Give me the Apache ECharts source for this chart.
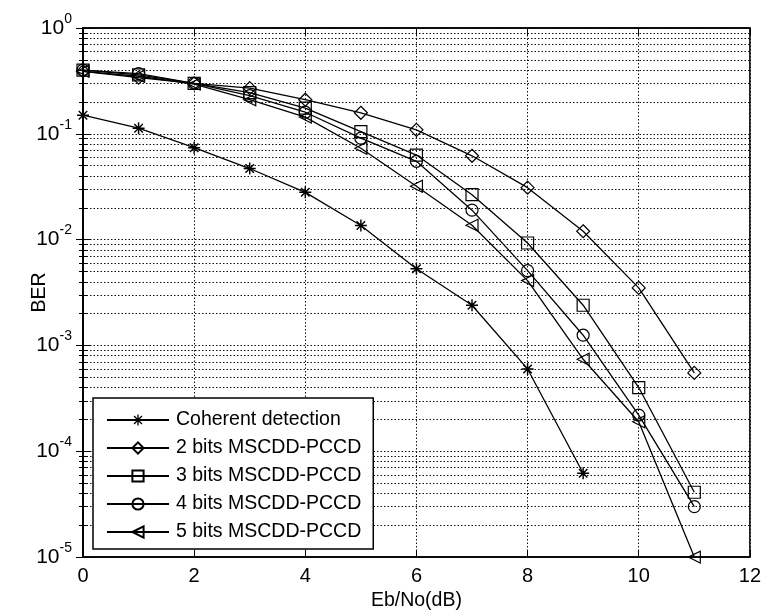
<!DOCTYPE html>
<html>
<head>
<meta charset="utf-8">
<script src="https://cdn.jsdelivr.net/npm/echarts@6/dist/echarts.min.js"></script>
<style>
  html, body { margin: 0; padding: 0; background: #fff; }
  #chart { width: 764px; height: 616px; }
</style>
</head>
<body>
<div id="chart"></div>
<script>
// Eb/No (dB) points
const ebno = [0, 1, 2, 3, 4, 5, 6, 7, 8, 9, 10, 11];
// BER per curve
const coherent = [0.15, 0.113, 0.074, 0.047, 0.028, 0.0136, 0.0053, 0.0024, 0.0006, 0.000062];
const bits2 = [0.39, 0.34, 0.30, 0.27, 0.21, 0.158, 0.109, 0.062, 0.031, 0.012, 0.0035, 0.00055];
const bits3 = [0.40, 0.36, 0.30, 0.245, 0.175, 0.105, 0.063, 0.0266, 0.0093, 0.0024, 0.0004, 0.000041];
const bits4 = [0.40, 0.37, 0.30, 0.23, 0.16, 0.091, 0.055, 0.019, 0.0051, 0.00125, 0.00022, 0.00003];
const bits5 = [0.39, 0.35, 0.295, 0.21, 0.144, 0.073, 0.032, 0.0137, 0.0041, 0.00074, 0.00019, 0.00001];
const names = ['Coherent detection', '2 bits MSCDD-PCCD', '3 bits MSCDD-PCCD', '4 bits MSCDD-PCCD', '5 bits MSCDD-PCCD'];

const FONT = '"Liberation Sans", Arial, sans-serif';
const starPath = 'path://M4.4,0H5.6V10H4.4Z M0,4.4H10V5.6H0Z M1.05,1.9L1.9,1.05L8.95,8.1L8.1,8.95Z M8.1,1.05L8.95,1.9L1.9,8.95L1.05,8.1Z';
const leftTri = 'path://M0,5L10,0L10,10Z';

function pairs(vals) {
  return vals.map((v, i) => [ebno[i], v]);
}

function mkSeries(name, vals, symbol, size, filled) {
  return {
    name: name,
    type: 'line',
    data: pairs(vals),
    symbol: symbol,
    symbolSize: size,
    showAllSymbol: true,
    clip: false,
    lineStyle: { color: '#000', width: 1.3 },
    itemStyle: filled
      ? { color: '#000' }
      : { color: 'rgba(0,0,0,0)', borderColor: '#000', borderWidth: 1.2 },
    emphasis: { disabled: true },
    z: 3
  };
}

const series = [
  mkSeries(names[0], coherent, starPath, 12, true),
  mkSeries(names[1], bits2, 'diamond', 13, false),
  mkSeries(names[2], bits3, 'rect', 12, false),
  mkSeries(names[3], bits4, 'circle', 12, false),
  mkSeries(names[4], bits5, leftTri, 12, false)
];

const gridLine = { show: true, lineStyle: { color: '#111', type: [1.5, 2], width: 1 } };

const myechart = echarts.init(document.getElementById('chart'), null, { renderer: 'canvas' });
const option = {
  animation: false,
  backgroundColor: '#fff',
  grid: {
    left: 83, right: 10, top: 28, bottom: 57,
    show: true, borderColor: '#000', borderWidth: 1.5, backgroundColor: 'transparent'
  },
  legend: {
    orient: 'vertical',
    left: 93, top: 398,
    padding: [12, 12, 7, 13],
    itemWidth: 62, itemHeight: 14, itemGap: 8,
    backgroundColor: '#fff',
    borderColor: '#000', borderWidth: 1.5,
    textStyle: { fontFamily: FONT, fontSize: 19.5, color: '#000', padding: [0, 0, 0, 2] },
    data: names,
    z: 10
  },
  xAxis: [{
    type: 'value',
    min: 0, max: 12, interval: 2,
    name: 'Eb/No(dB)', nameLocation: 'middle', nameGap: 33,
    nameTextStyle: { fontFamily: FONT, fontSize: 19.5, color: '#000' },
    axisLine: { show: true, onZero: false, lineStyle: { color: '#000', width: 1.5 } },
    axisTick: { show: true, inside: true, length: 7, lineStyle: { color: '#000' } },
    axisLabel: { fontFamily: FONT, fontSize: 20, color: '#000', margin: 9 },
    splitLine: gridLine
  }, {
    type: 'value', position: 'top',
    min: 0, max: 12, interval: 2,
    axisLine: { show: true, lineStyle: { color: '#000', width: 1.5 } },
    axisTick: { show: true, inside: true, length: 7, lineStyle: { color: '#000' } },
    axisLabel: { show: false },
    splitLine: { show: false }
  }],
  yAxis: [{
    type: 'log', logBase: 10,
    min: 0.00001, max: 1,
    name: 'BER', nameLocation: 'middle', nameGap: 33, nameRotate: 90,
    nameMoveOverlap: false,
    nameTextStyle: { fontFamily: FONT, fontSize: 19.5, color: '#000' },
    axisLine: { show: true, onZero: false, lineStyle: { color: '#000', width: 1.5 } },
    axisTick: { show: true, inside: true, length: 7, lineStyle: { color: '#000' } },
    minorTick: { show: true, splitNumber: 9, length: 4, lineStyle: { color: '#000' } },
    axisLabel: {
      margin: 11,
      formatter: function (v) {
        const e = Math.round(Math.log10(v));
        return '{b|10}{e|' + e + '}';
      },
      rich: {
        b: { fontFamily: FONT, fontSize: 21, color: '#000', lineHeight: 32 },
        e: { fontFamily: FONT, fontSize: 14, color: '#000', verticalAlign: 'top' }
      }
    },
    splitLine: gridLine,
    minorSplitLine: gridLine
  }, {
    type: 'log', logBase: 10, position: 'right',
    min: 0.00001, max: 1,
    axisLine: { show: true, lineStyle: { color: '#000', width: 1.5 } },
    axisTick: { show: true, inside: true, length: 7, lineStyle: { color: '#000' } },
    minorTick: { show: true, splitNumber: 9, length: 4, lineStyle: { color: '#000' } },
    axisLabel: { show: false },
    splitLine: { show: false }
  }],
  series: series
};
myechart.setOption(option);
</script>
</body>
</html>
